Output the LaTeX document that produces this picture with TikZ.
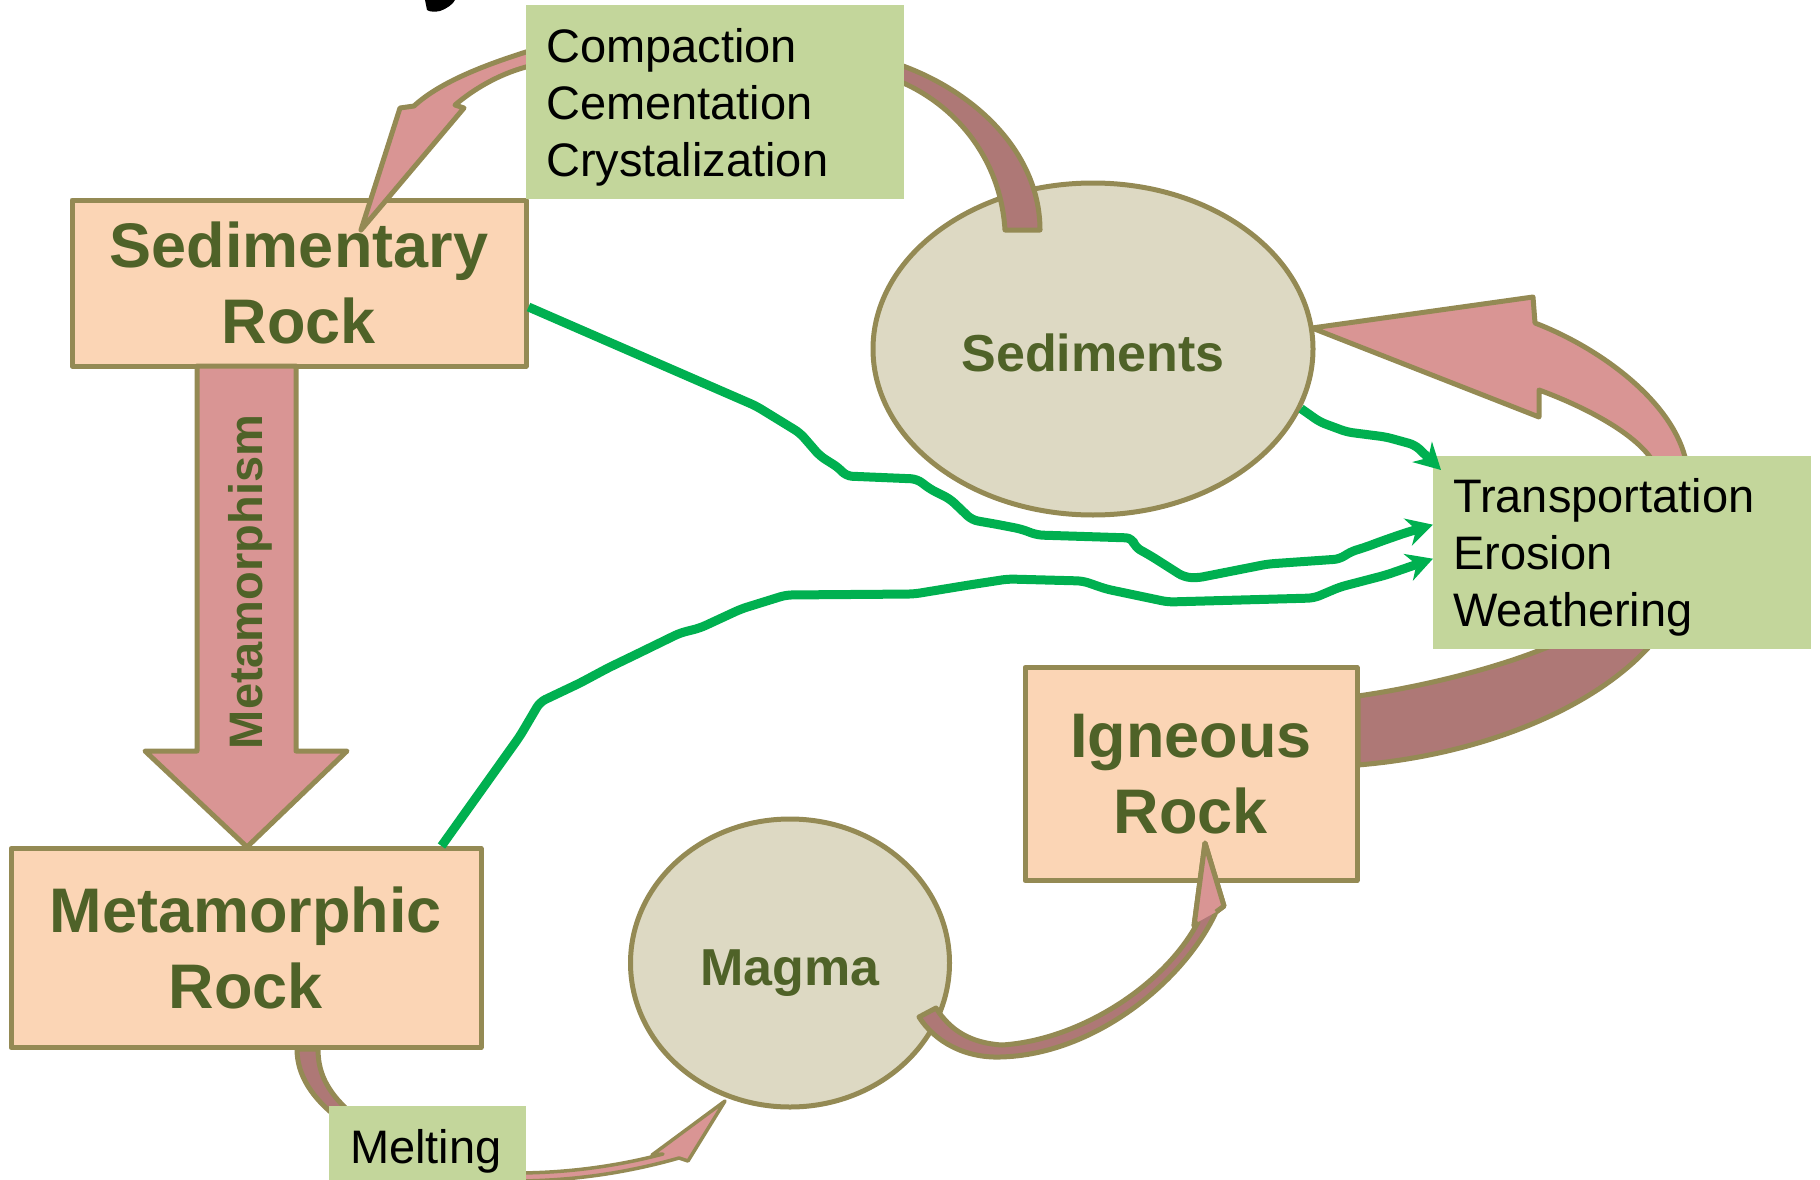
\documentclass[tikz,border=0pt]{standalone}
\usepackage{fontspec}
\setmainfont{Liberation Sans}
\usepackage{tikz}
\usetikzlibrary{arrows.meta,shapes.geometric,calc}

\definecolor{peach}{HTML}{FBD5B5}
\definecolor{olivebd}{HTML}{948A54}
\definecolor{sand}{HTML}{DDD9C3}
\definecolor{leaf}{HTML}{C3D69B}
\definecolor{rosy}{HTML}{D99594}
\definecolor{mauve}{HTML}{AE7876}
\definecolor{flowgreen}{HTML}{00B050}
\definecolor{moss}{HTML}{4F6228}

\begin{document}
\begin{tikzpicture}[x=1pt,y=-1pt,line join=round,
    rock/.style={rectangle,draw=olivebd,line width=5pt,fill=peach,inner sep=0pt,
      align=center,text=moss,font=\bfseries\fontsize{63}{76}\selectfont},
    blob/.style={ellipse,draw=olivebd,line width=5pt,fill=sand,inner sep=0pt,
      text=moss,text depth=0pt,font=\bfseries\fontsize{52}{62}\selectfont},
    proc/.style={rectangle,fill=leaf,anchor=north west,inner xsep=20pt,inner ysep=0pt,
      align=left,font=\fontsize{47}{57}\selectfont},
    band/.style={draw=olivebd,line width=5pt},
    flow/.style={draw=flowgreen,line width=9pt,rounded corners=6pt,
      -{Stealth[length=26pt,width=28pt]}}]

  \useasboundingbox (0,0) rectangle (1820,1180);

  % what is left of the title
  \fill (425,0) -- (427,10) .. controls (429,12) and (436,12) .. (440,11)
        .. controls (448,8) and (453,4) .. (455,0) -- cycle;

  \node[rock,minimum width=454pt,minimum height=166pt] (sr) at (299,283) {Sedimentary\\Rock};
  \node[blob,minimum width=440pt,minimum height=332pt,text height=44pt] (sd) at (1093,349) {Sediments};
  \node[rock,minimum width=332pt,minimum height=213pt] (ir) at (1191,774) {Igneous\\Rock};
  \node[rock,minimum width=470pt,minimum height=199pt] (mr) at (246,948) {Metamorphic\\Rock};
  \node[blob,minimum width=319pt,minimum height=288pt,text height=45pt] (mg) at (790,963) {Magma};

  % block arrows
  \filldraw[band,fill=rosy] (197,366) -- (197,751) -- (145,751) -- (247,847)
     -- (347,751) -- (296,751) -- (296,366) -- cycle;
  \node[rotate=90,text=moss,font=\bfseries\fontsize{47}{56}\selectfont] (mm) at (250,582) {Metamorphism};

  \filldraw[band,fill=rosy] (545,47) -- (526,52) .. controls (485,65) and (440,82) .. (414,106)
     -- (400,108) -- (361,230) -- (464,108) -- (455,105)
     .. controls (475,88) and (500,74) .. (526,67) -- (545,62) -- cycle;
  \filldraw[band,fill=mauve] (885,60) .. controls (970,85) and (1040,150) .. (1040,230)
     -- (1005,230) .. controls (1000,150) and (945,95) .. (885,76) -- cycle;

  \filldraw[band,fill=mauve] (1358,696) .. controls (1420,687) and (1490,670) .. (1543,649)
     -- (1580,635) -- (1665,630) -- (1647,649)
     .. controls (1590,710) and (1480,755) .. (1358,765) -- cycle;
  \filldraw[band,fill=rosy] (1312,328) -- (1533,297) -- (1535,323)
     .. controls (1600,348) and (1670,400) .. (1685,457) -- (1690,485) -- (1660,485) -- (1650,457)
     .. controls (1630,430) and (1580,405) .. (1539,390) -- (1539,417) -- cycle;

  \filldraw[band,fill=mauve] (297,1049) .. controls (297,1075) and (312,1098) .. (338,1118)
     -- (350,1112) .. controls (325,1090) and (318,1070) .. (318,1049) -- cycle;
  \filldraw[band,line width=3.5pt,fill=rosy] (515,1173) .. controls (575,1173) and (625,1164) .. (663,1154)
     -- (652,1155) -- (725,1101) -- (688,1161) -- (679,1158)
     .. controls (630,1172) and (575,1181) .. (515,1181) -- cycle;

  \filldraw[band,fill=mauve] (919,1017) .. controls (935,1042) and (965,1058) .. (1000,1057)
     .. controls (1095,1055) and (1185,980) .. (1216,912) -- (1224,906) -- (1205,843)
     -- (1194,926) -- (1198,922) .. controls (1165,985) and (1080,1040) .. (1002,1045)
     .. controls (970,1043) and (950,1030) .. (936,1008) -- cycle;
  \fill[rosy] (1216,912) -- (1224,906) -- (1205,843) -- (1194,926) -- (1198,922) -- cycle;
  \draw[band] (1216,912) -- (1224,906) -- (1205,843) -- (1194,926) -- (1198,922);

  \node[proc,text width=338pt,text height=44pt,minimum height=194pt] (cc) at (526,5) {Compaction\\Cementation\\Crystalization};
  \node[proc,text width=338pt,text height=44pt,minimum height=193pt] (te) at (1433,456) {Transportation\\Erosion\\Weathering};
  \node[proc,text width=155pt,inner xsep=21pt,minimum height=90pt] (ml) at (329,1106) {Melting};

  % green connectors
  \draw[flow] ($(sr.east)+(0,24)$) -- (756,406) -- (800,433) -- (820,456) -- (839,468) -- (846,476)
     -- (917,479) -- (930,489) -- (950,499) -- (972,520) -- (995,524) -- (1021,529) -- (1037,535)
     -- (1132,538) -- (1135,547) -- (1151,556) -- (1184,577) -- (1197,578) -- (1268,564)
     -- (1340,559) -- (1350,552) -- (1366,547) -- (1382,541) -- (1405,533) -- ($(te.west)+(0,-28)$);
  \draw[flow] ($(mr.north east)+(-42,0)$) -- (520,736) -- (540,702) -- (580,683) -- (608,668)
     -- (637,654) -- (680,633) -- (700,628) -- (741,609) -- (786,595) -- (914,594) -- (969,585)
     -- (1008,579) -- (1083,581) -- (1106,589) -- (1168,602) -- (1314,598) -- (1340,587)
     -- (1386,575) -- (1412,566) -- ($(te.west)+(0,6)$);
  \draw[flow] (sd.-16) -- (1320,422) -- (1347,432) -- (1386,437) -- (1415,445)
     -- ($(te.north west)+(8,14)$);
\end{tikzpicture}
\end{document}
